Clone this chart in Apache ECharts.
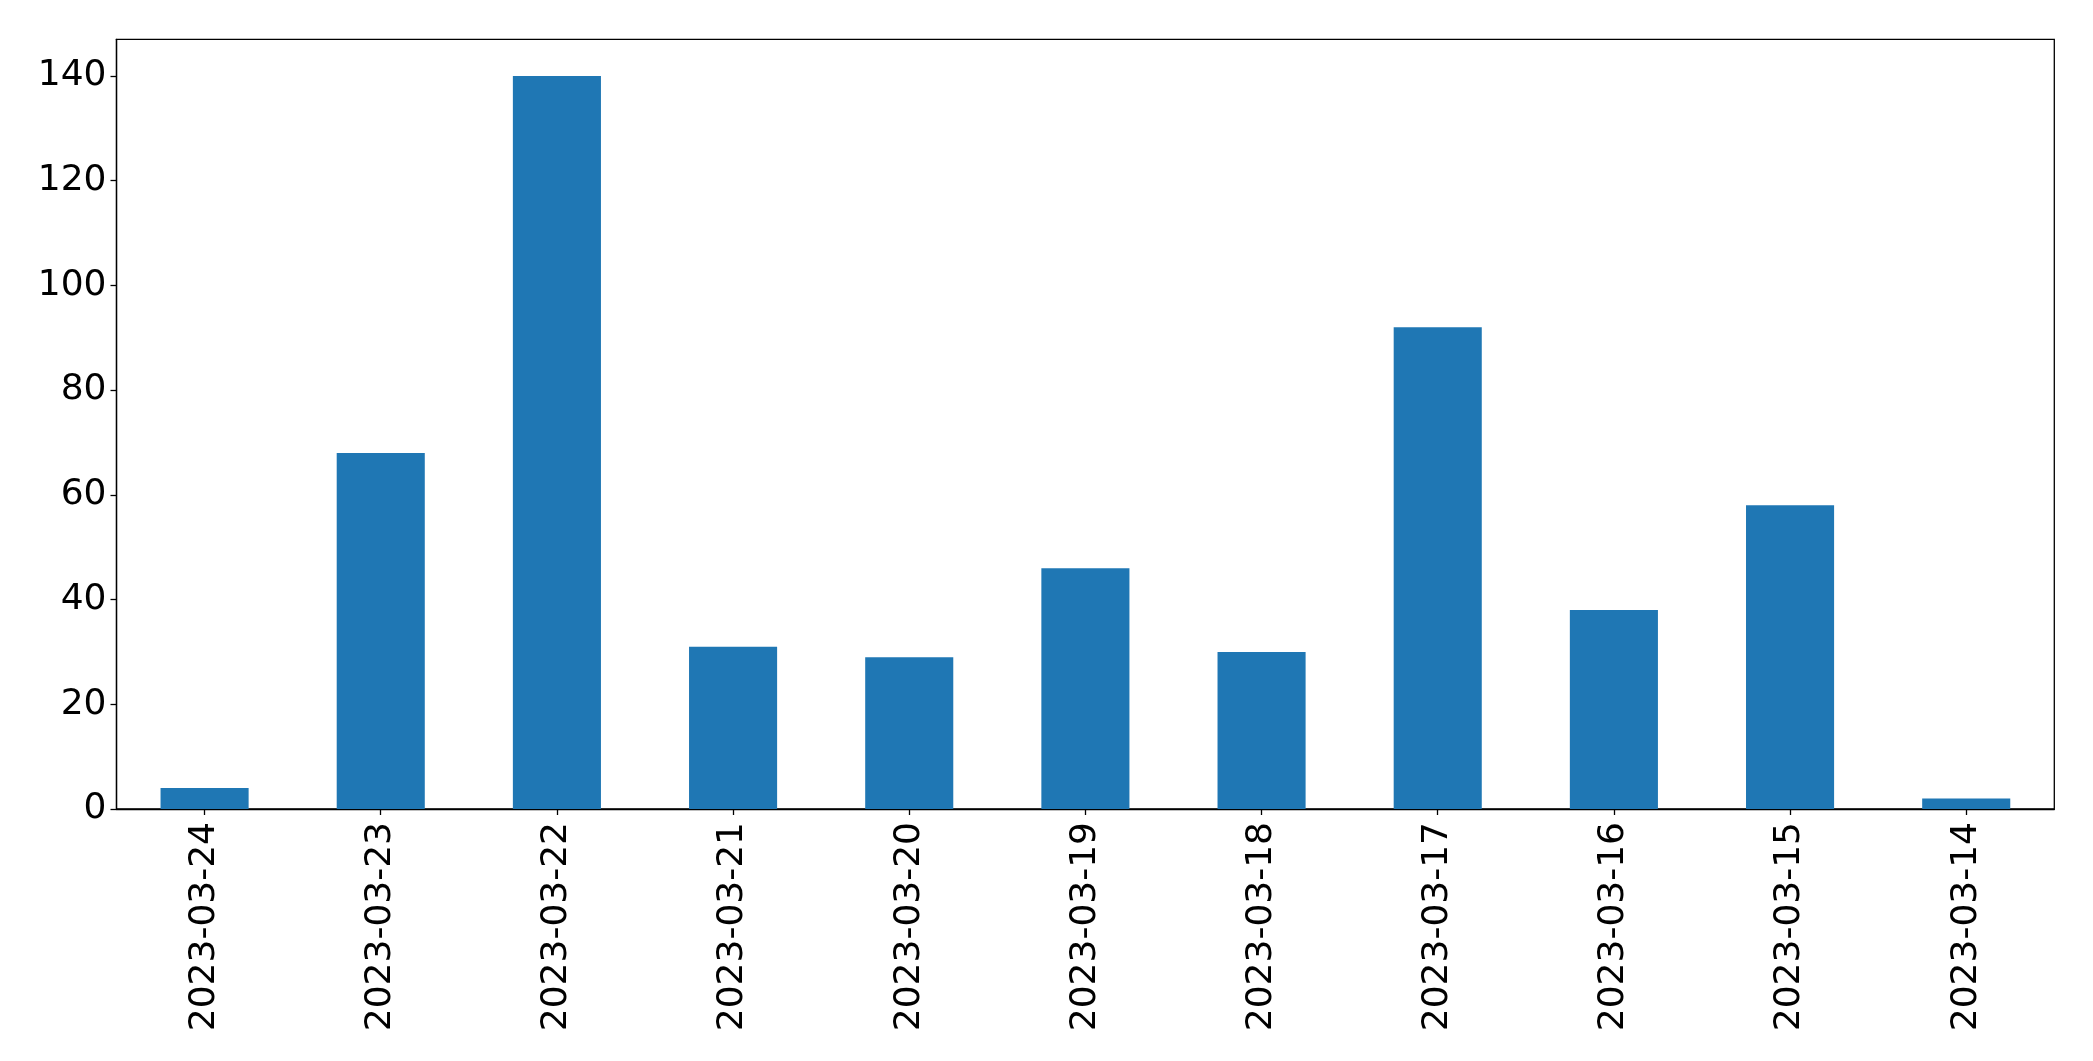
<!DOCTYPE html>
<html>
<head>
<meta charset="utf-8">
<script src="https://cdn.jsdelivr.net/npm/echarts@6/dist/echarts.min.js"></script>
<style>
  html, body { margin: 0; padding: 0; background: #fff; }
  #main { width: 2093px; height: 1061px; }
</style>
</head>
<body>
<div id="main"></div>
<script>
  // 日期（横轴，从新到旧）
  var dates = ['2023-03-24', '2023-03-23', '2023-03-22', '2023-03-21', '2023-03-20', '2023-03-19',
               '2023-03-18', '2023-03-17', '2023-03-16', '2023-03-15', '2023-03-14'];
  // 每天的数量
  var counts = [4, 68, 140, 31, 29, 46, 30, 92, 38, 58, 2];

  var mainChart = echarts.init(document.getElementById('main'));
  var font = 'DejaVu Sans';

  var option = {
    animation: false,
    grid: {
      left: 116.5,
      right: 38.7,
      top: 39.3,
      bottom: 252,
      show: true,
      borderColor: '#000',
      borderWidth: 1.3,
      backgroundColor: 'transparent'
    },
    xAxis: {
      type: 'category',
      data: dates,
      boundaryGap: true,
      axisLine: { show: true, lineStyle: { color: '#000', width: 1.3 } },
      axisTick: { show: true, alignWithLabel: true, length: 6, lineStyle: { color: '#000', width: 1.3 } },
      axisLabel: {
        rotate: 90,
        interval: 0,
        margin: 13,
        color: '#000',
        fontSize: 36,
        fontFamily: font
      },
      splitLine: { show: false }
    },
    yAxis: {
      type: 'value',
      min: 0,
      max: 147,
      interval: 20,
      axisLine: { show: true, lineStyle: { color: '#000', width: 1.3 } },
      axisTick: { show: true, length: 6, lineStyle: { color: '#000', width: 1.3 } },
      axisLabel: {
        margin: 10,
        color: '#000',
        fontSize: 36,
        fontFamily: font,
        showMaxLabel: false
      },
      splitLine: { show: false }
    },
    series: [
      {
        type: 'bar',
        data: counts,
        barWidth: '50%',
        itemStyle: { color: '#1f77b4' }
      }
    ]
  };

  mainChart.setOption(option, true);
</script>
</body>
</html>
